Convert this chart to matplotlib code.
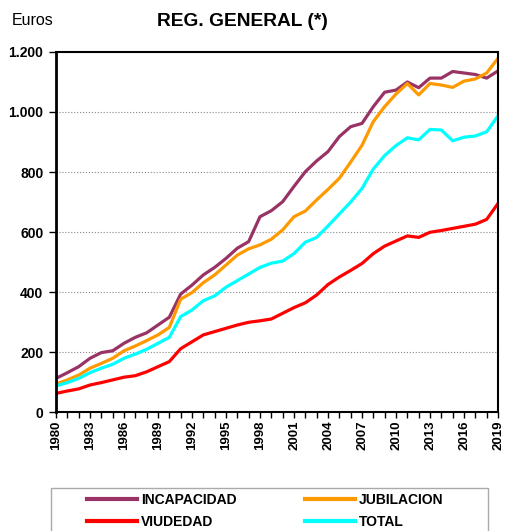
import numpy as np
import matplotlib
matplotlib.use('Agg')
import matplotlib.pyplot as plt
from matplotlib.ticker import FuncFormatter, MultipleLocator
from matplotlib.patches import Rectangle

plt.rcParams['font.family'] = ['Liberation Sans', 'DejaVu Sans']

years = list(range(1980, 2020))

incapacidad = [112, 131, 151, 179, 198, 204, 229, 249, 264, 290,
               316, 393, 423, 457, 482, 512, 546, 568, 651, 671,
               701, 752, 801, 837, 868, 918, 951, 962, 1018, 1066,
               1073, 1100, 1081, 1113, 1113, 1135, 1130, 1125, 1113, 1137]
jubilacion = [93, 107, 123, 146, 162, 179, 204, 220, 238, 257,
              282, 376, 398, 431, 457, 490, 523, 544, 557, 576,
              607, 651, 670, 707, 742, 779, 833, 889, 968, 1018,
              1060, 1095, 1057, 1095, 1090, 1082, 1103, 1110, 1130, 1179]
viudedad = [62, 70, 77, 90, 98, 107, 116, 121, 134, 151,
            168, 211, 234, 257, 268, 279, 290, 299, 304, 310,
            329, 348, 364, 390, 425, 450, 472, 495, 528, 553,
            570, 587, 582, 599, 605, 612, 619, 626, 642, 695]
total = [87, 98, 112, 131, 146, 159, 179, 193, 209, 229,
         249, 318, 340, 371, 387, 416, 438, 460, 482, 496,
         503, 528, 566, 582, 620, 660, 700, 745, 810, 855,
         888, 914, 907, 942, 940, 904, 916, 920, 934, 987]

series = {'INCAPACIDAD': (incapacidad, '#993366'),
          'JUBILACION': (jubilacion, '#FF9900'),
          'VIUDEDAD': (viudedad, '#FF0000'),
          'TOTAL': (total, '#00FFFF')}

fig = plt.figure(figsize=(5.06, 5.31), dpi=100)
ax = fig.add_axes([56/506, 1 - 412/531, 442/506, 360/531])

lines = {}
for name, (vals, col) in series.items():
    ln, = ax.plot(years, vals, color=col, lw=2.3, label=name)
    lines[name] = ln

ax.set_xlim(1980, 2019)
ax.set_ylim(0, 1200)
ax.xaxis.set_major_locator(MultipleLocator(3))
ax.xaxis.set_minor_locator(MultipleLocator(1))
ax.yaxis.set_major_locator(MultipleLocator(200))
ax.yaxis.set_major_formatter(FuncFormatter(lambda v, p: f'{int(v):,}'.replace(',', '.')))

for lbl in ax.get_xticklabels():
    lbl.set_rotation(90)
ax.tick_params(axis='x', which='both', direction='out', length=4, width=1, labelsize=9.5, pad=2)
ax.tick_params(axis='y', direction='out', length=5, width=1, labelsize=10, pad=4)
for lbl in ax.get_xticklabels() + ax.get_yticklabels():
    lbl.set_fontweight('bold')

ax.yaxis.grid(True, linestyle=':', color='#888888', lw=0.8)
ax.set_axisbelow(True)
for s in ax.spines.values():
    s.set_linewidth(1.5)
ax.spines['left'].set_linewidth(2)

fig.text(12/506, 1 - 20.5/531, 'Euros', fontsize=11.5, va='center', ha='left')
fig.text(242/506, 1 - 21/531, 'REG. GENERAL (*)', fontsize=13.8, fontweight='bold',
         va='center', ha='center')

# legend box (runs off the bottom of the picture)
fig.patches.append(Rectangle((51/506, -0.05), 437/506, 0.05 + 1 - 488/531,
                             transform=fig.transFigure, fill=False,
                             edgecolor='#aaaaaa', lw=1))

order = ['INCAPACIDAD', 'VIUDEDAD', 'JUBILACION', 'TOTAL']
leg = fig.legend([lines[n] for n in order], order, ncol=2,
                 loc='upper left', bbox_to_anchor=(87/506, 1 - 493/531),
                 frameon=False, prop={'weight': 'bold', 'size': 10},
                 handlelength=3.6, borderpad=0, labelspacing=0.55,
                 handletextpad=0.3, columnspacing=4.9, borderaxespad=0)
for h in leg.legend_handles:
    h.set_linewidth(3)

fig.savefig('out.png', dpi=100)
